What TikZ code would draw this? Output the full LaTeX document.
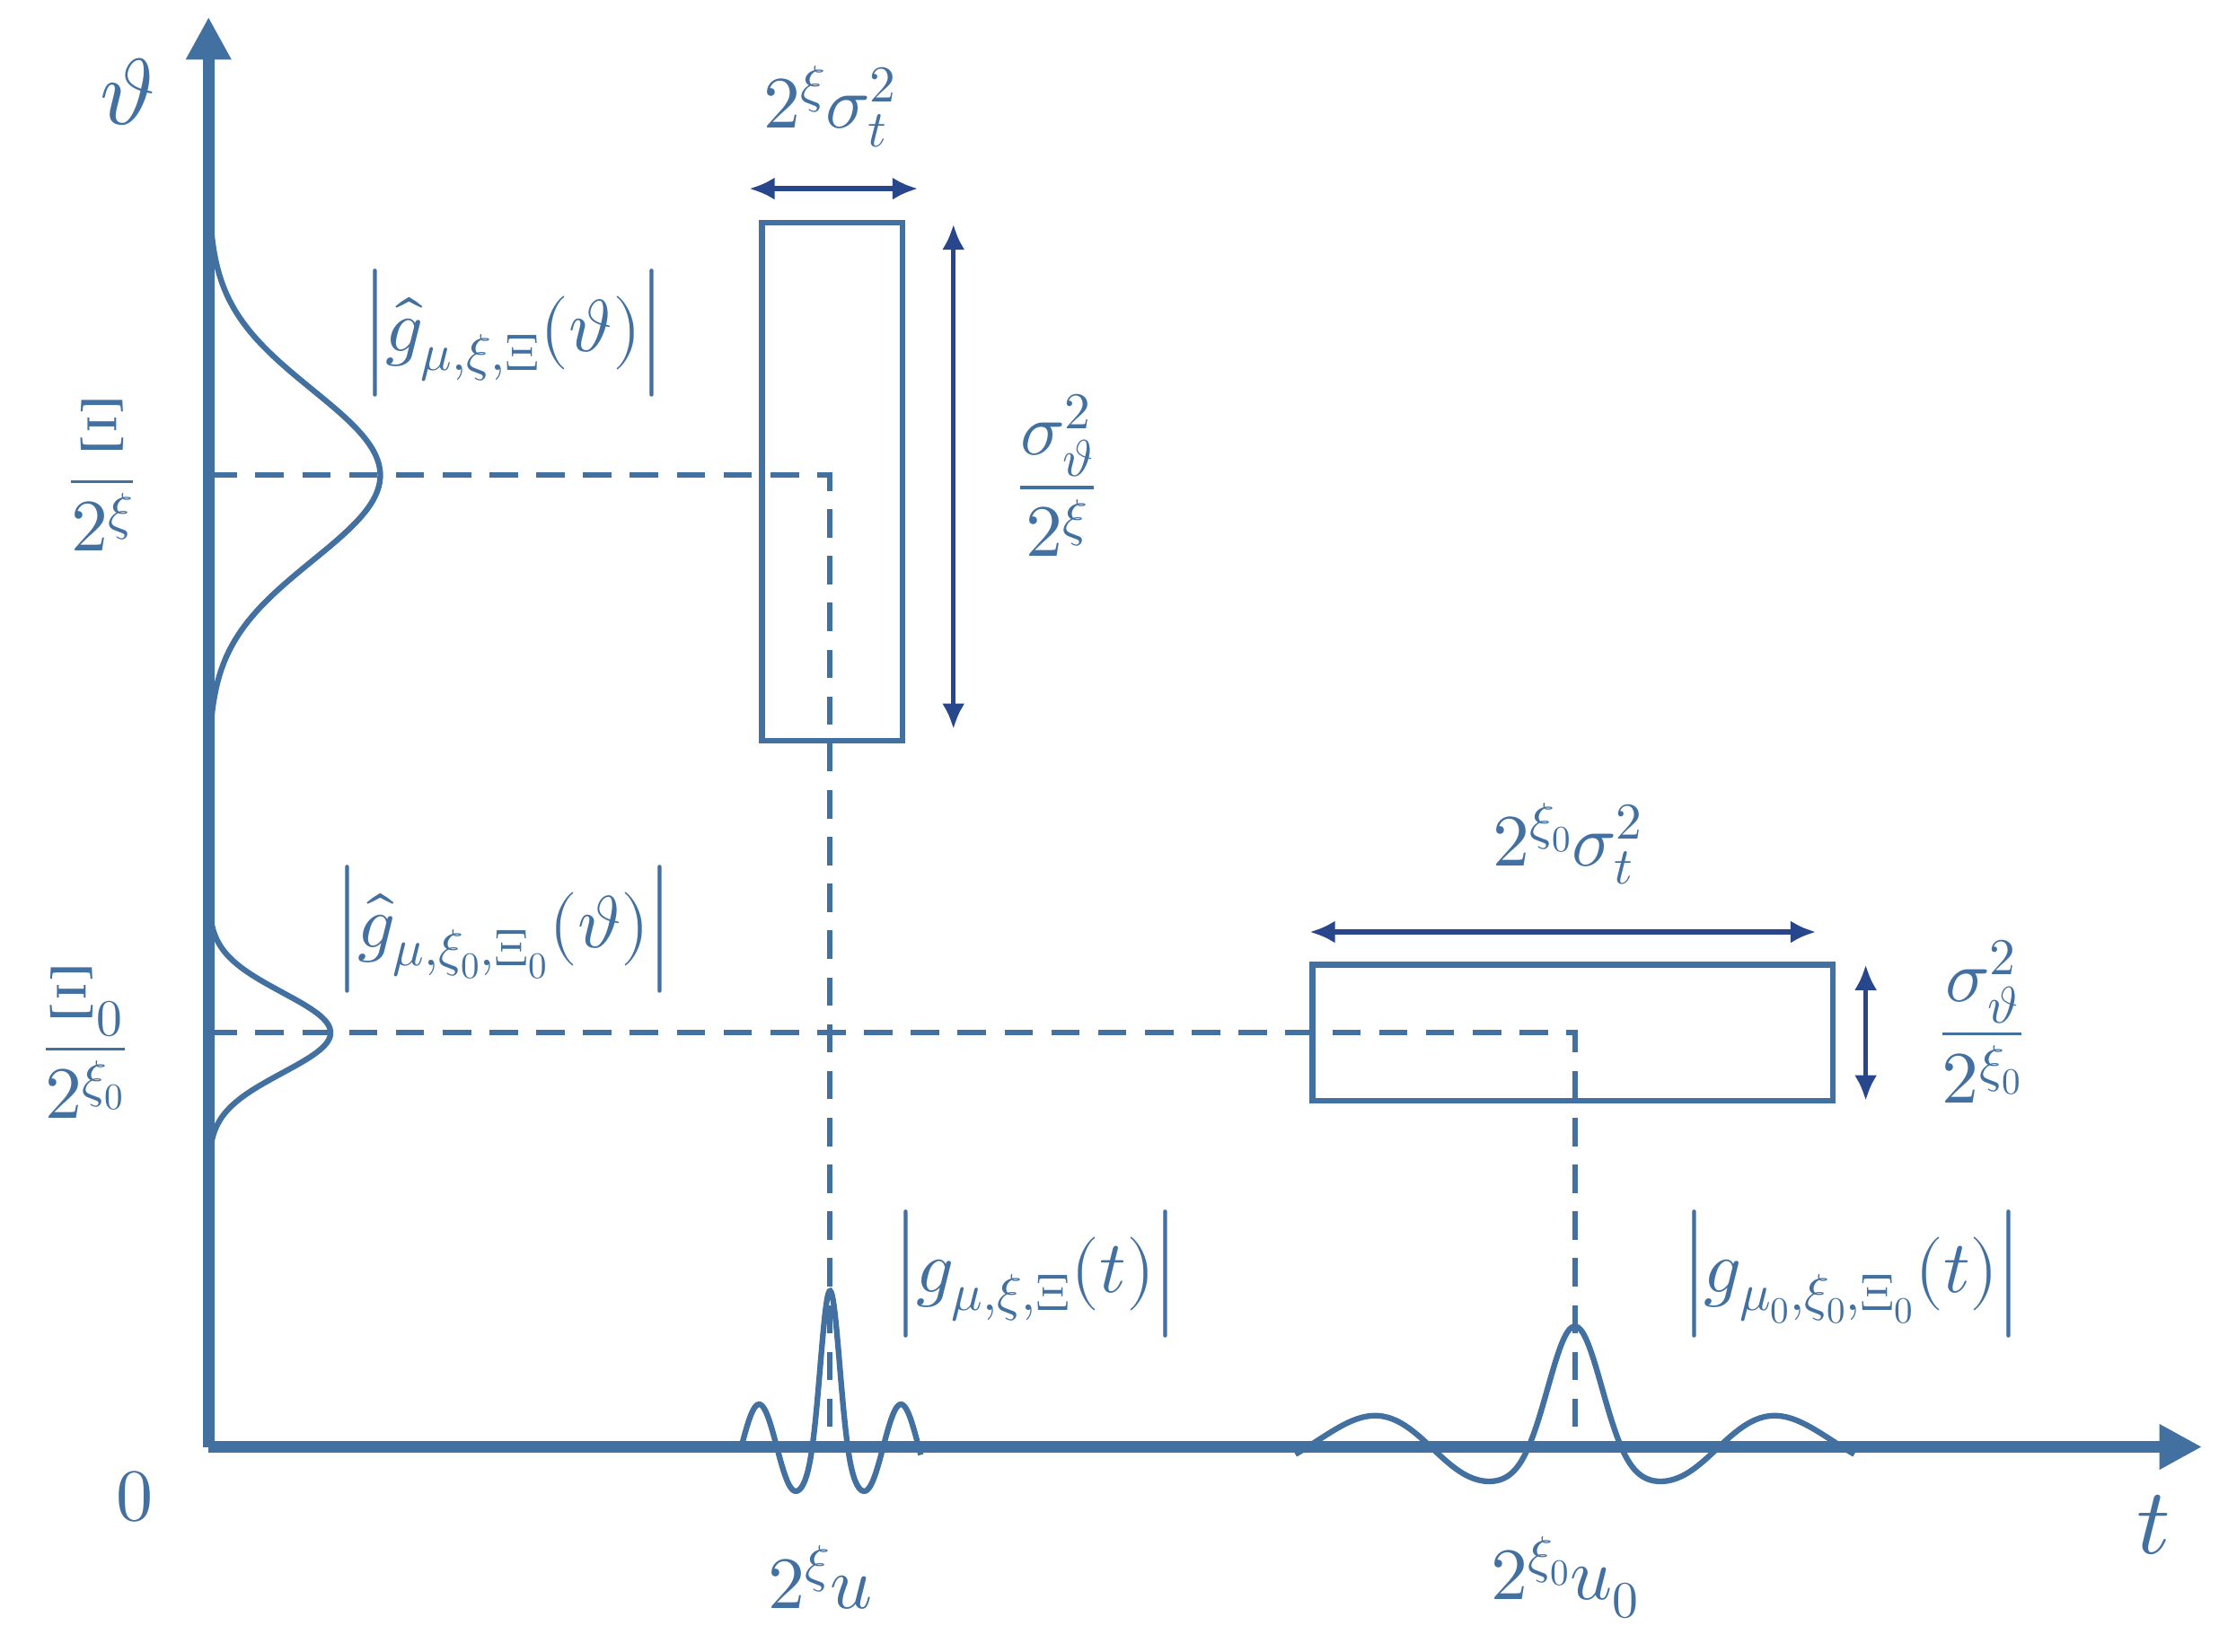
\documentclass[tikz,border=0pt]{standalone}
\usepackage{amsmath}
\usepackage{unicode-math}
\setmathfont{Latin Modern Math}
\usetikzlibrary{arrows.meta}
\definecolor{ax}{RGB}{66,112,160}
\definecolor{dk}{RGB}{40,70,140}
\begin{document}
\begin{tikzpicture}[x=1pt,y=-1pt,
  axis/.style={ax,line width=8pt,-{Triangle[length=30pt,width=30pt]}},
  curve/.style={ax,line width=4pt},
  dsh/.style={ax,line width=4pt,dash pattern=on 20pt off 13pt},
  dim/.style={dk,line width=3.5pt,{Latex[length=18pt,width=16pt]}-{Latex[length=18pt,width=16pt]}},
  lab/.style={ax,font=\fontsize{52}{58}\selectfont,inner sep=0},
  big/.style={ax,font=\fontsize{66}{70}\selectfont,inner sep=0}]
\useasboundingbox (0,0) rectangle (1564,1164);
\coordinate (O) at (147,1020);
\coordinate (Ytop) at (147,12);
\coordinate (Xr) at (1552,1020);
% dashed
\draw[dsh] (147,335) -- (585,335) -- (585,1020);
\draw[dsh] (147,728) -- (1110,728) -- (1110,1020);
% rectangles
\node[draw=ax,line width=4pt,minimum width=99pt,minimum height=365pt,inner sep=0] (r1) at (586.5,339.5) {};
\node[draw=ax,line width=4pt,minimum width=367pt,minimum height=96pt,inner sep=0] (r2) at (1108.5,728) {};
% gaussians
\draw[curve] plot[domain=140:530,samples=120,smooth] ({147+121*exp(-((\x-335)/85)^2)},\x);
\draw[curve] plot[domain=625:832,samples=80,smooth] ({147+86*exp(-((\x-728)/40)^2)},\x);
% wavelets
\draw[curve] plot[domain=-63:64,samples=200,smooth] ({585+\x},{1020-(30+80*exp(-(\x/12)^2))*cos(7.2*\x)});
\draw[curve] plot[domain=-197:197,samples=250,smooth] ({1110+\x},{1020-(22+63*exp(-(\x/35)^2))*cos(2.769*\x*(1-0.15*(\x/197)^2))});
% axes
\draw[axis] (O) -- (Ytop);
\draw[axis] (O) -- (Xr);
% dimension arrows
\draw[dim] (528,133) -- (647,133);
\draw[dim] (672,158) -- (672,514);
\draw[dim] (923,657) -- (1280,657);
\draw[dim] (1315,680) -- (1315,776);
% labels
\node[big] (th) at (90,65) {$\vartheta$};
\node[big] (tl) at (1518,1075) {$t$};
\node[lab] (zero) at (95,1055) {$0$};
\node[lab] (l1) at (585,75) {$2^{\xi}\sigma_t^2$};
\node[lab] (l2) at (745,335) {$\dfrac{\sigma_\vartheta^2}{2^{\xi}}$};
\node[lab] (l3) at (1105,595) {$2^{\xi_0}\sigma_t^2$};
\node[lab] (l4) at (1397,720) {$\dfrac{\sigma_\vartheta^2}{2^{\xi_0}}$};
\node[lab] (l5) at (72,335) {$\dfrac{\Xi}{2^{\xi}}$};
\node[lab] (l6) at (60,735) {$\dfrac{\Xi_0}{2^{\xi_0}}$};
\node[lab] (l7) at (362,235) {$\Bigl|\hat g_{\mu,\xi,\Xi}(\vartheta)\Bigr|$};
\node[lab] (l8) at (355,655) {$\Bigl|\hat g_{\mu,\xi_0,\Xi_0}(\vartheta)\Bigr|$};
\node[lab] (l9) at (730,898) {$\Bigl|g_{\mu,\xi,\Xi}(t)\Bigr|$};
\node[lab] (l10) at (1305,898) {$\Bigl|g_{\mu_0,\xi_0,\Xi_0}(t)\Bigr|$};
\node[lab] (l11) at (578,1112) {$2^{\xi}u$};
\node[lab] (l12) at (1103,1112) {$2^{\xi_0}u_0$};
\end{tikzpicture}
\end{document}
